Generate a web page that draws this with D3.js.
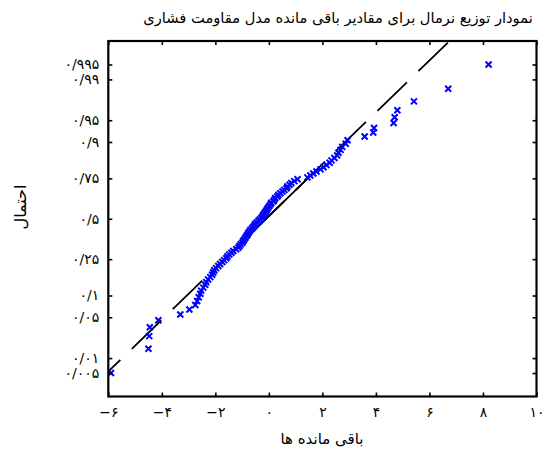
<!DOCTYPE html>
<html><head><meta charset="utf-8">
<script src="https://cdn.jsdelivr.net/npm/d3@7"></script>
<style>html,body{margin:0;padding:0;background:#fff;}svg{display:block;}</style>
</head><body>
<svg id="chart" width="547" height="450"></svg>
<script>
// ---- data (sorted residuals) ----
const residuals = [
  -5.90, -4.50, -4.47, -4.45, -4.13, -3.31, -2.97, -2.75, -2.68, -2.62,
  -2.56, -2.53, -2.45, -2.38, -2.34, -2.27, -2.19, -2.12, -2.08, -2.04,
  -1.97, -1.89, -1.82, -1.74, -1.67, -1.59, -1.55, -1.48, -1.40, -1.33,
  -1.22, -1.14, -1.10, -1.05, -0.99, -0.96, -0.92, -0.88, -0.84, -0.80,
  -0.77, -0.73, -0.69, -0.63, -0.58, -0.54, -0.51, -0.45, -0.39, -0.34,
  -0.28, -0.24, -0.21, -0.17, -0.13, -0.09, -0.06, -0.02, 0.02, 0.06,
   0.09, 0.17, 0.21, 0.24, 0.32, 0.36, 0.43, 0.51, 0.58, 0.66,
   0.69, 0.77, 0.84, 0.95, 1.07, 1.44, 1.55, 1.66, 1.78, 1.93,
   2.04, 2.15, 2.27, 2.34, 2.45, 2.55, 2.60, 2.68, 2.74, 2.87,
   2.94, 3.58, 3.90, 3.93, 4.66, 4.70, 4.80, 5.42, 6.70, 8.21
];
const xTicks = [-6, -4, -2, 0, 2, 4, 6, 8, 10];
const xTickLabels = ["\u2212\u06F6", "\u2212\u06F4", "\u2212\u06F2", "\u06F0", "\u06F2", "\u06F4", "\u06F6", "\u06F8", "\u06F1\u06F0"];
const probTicks = [0.005, 0.01, 0.05, 0.1, 0.25, 0.5, 0.75, 0.9, 0.95, 0.99, 0.995];
const probTickLabels = ["\u06F0/\u06F0\u06F0\u06F5", "\u06F0/\u06F0\u06F1", "\u06F0/\u06F0\u06F5", "\u06F0/\u06F1", "\u06F0/\u06F2\u06F5",
  "\u06F0/\u06F5", "\u06F0/\u06F7\u06F5", "\u06F0/\u06F9", "\u06F0/\u06F9\u06F5", "\u06F0/\u06F9\u06F9", "\u06F0/\u06F9\u06F9\u06F5"];
const xDomain = [-6, 10];
const probDomain = [0.0015, 0.9985];
// reference line (fitted normal): mean and standard deviation, and its x extent
const refMu = -0.106;
const refSigma = 2.31;
const refXExtent = [-6.06, 8.21];
const refQuartileP = [0.25, 0.75];
const titleText = "نمودار توزیع نرمال برای مقادیر باقی مانده مدل مقاومت فشاری";
const xLabelText = "باقی مانده ها";
const yLabelText = "احتمال";

// inverse normal CDF (probability axis transform)
function norminv(p) {
  const a = [-3.969683028665376e+01, 2.209460984245205e+02, -2.759285104469687e+02, 1.383577518672690e+02, -3.066479806614716e+01, 2.506628277459239e+00];
  const b = [-5.447609879822406e+01, 1.615858368580409e+02, -1.556989798598866e+02, 6.680131188771972e+01, -1.328068155288572e+01];
  const c = [-7.784894002430293e-03, -3.223964580411365e-01, -2.400758277161838e+00, -2.549732539343734e+00, 4.374664141464968e+00, 2.938163982698783e+00];
  const d = [7.784695709041462e-03, 3.224671290700398e-01, 2.445134137142996e+00, 3.754408661907416e+00];
  const pl = 0.02425, ph = 1 - pl;
  let q, r;
  if (p < pl) { q = Math.sqrt(-2 * Math.log(p));
    return (((((c[0]*q+c[1])*q+c[2])*q+c[3])*q+c[4])*q+c[5]) / ((((d[0]*q+d[1])*q+d[2])*q+d[3])*q+1); }
  if (p <= ph) { q = p - 0.5; r = q*q;
    return (((((a[0]*r+a[1])*r+a[2])*r+a[3])*r+a[4])*r+a[5])*q / (((((b[0]*r+b[1])*r+b[2])*r+b[3])*r+b[4])*r+1); }
  q = Math.sqrt(-2 * Math.log(1 - p));
  return -(((((c[0]*q+c[1])*q+c[2])*q+c[3])*q+c[4])*q+c[5]) / ((((d[0]*q+d[1])*q+d[2])*q+d[3])*q+1);
}

const L = 108.3, R = 536.5, T = 41, B = 396.5;
const svg = d3.select("#chart");
const x = d3.scaleLinear().domain(xDomain).range([L, R]);
const y = d3.scaleLinear().domain(probDomain.map(norminv)).range([B, T]);

const n = residuals.length;
const pts = residuals.map((v, i) => ({ x: v, z: norminv((i + 0.5) / n) }));

const font = "'DejaVu Sans', sans-serif";

// clip
svg.append("defs").append("clipPath").attr("id", "clip")
  .append("rect").attr("x", L).attr("y", T).attr("width", R - L).attr("height", B - T);

// reference line
const refPts = refXExtent.map(v => ({ x: v, z: (v - refMu) / refSigma }));
const lineGen = d3.line().x(d => x(d.x)).y(d => y(d.z));
const gLine = svg.append("g").attr("clip-path", "url(#clip)");
gLine.append("path").datum(refPts).attr("d", lineGen)
  .attr("fill", "none").attr("stroke", "#000").attr("stroke-width", 1.8)
  .attr("stroke-dasharray", "41,16").attr("stroke-dashoffset", 22);
const qPts = refQuartileP.map(p => { const z = norminv(p); return { x: refMu + z * refSigma, z }; });
gLine.append("path").datum(qPts).attr("d", lineGen)
  .attr("fill", "none").attr("stroke", "#000").attr("stroke-width", 1.8);

// markers
const gPts = svg.append("g").attr("clip-path", "url(#clip)");
const s = 3;
gPts.selectAll("path.mk").data(pts).enter().append("path")
  .attr("class", "mk")
  .attr("d", d => { const cx = x(d.x), cy = y(d.z);
    return `M${cx - s},${cy - s}L${cx + s},${cy + s}M${cx - s},${cy + s}L${cx + s},${cy - s}`; })
  .attr("stroke", "#0000ff").attr("stroke-width", 2).attr("fill", "none");

// axes box
svg.append("rect").attr("x", L).attr("y", T).attr("width", R - L).attr("height", B - T)
  .attr("fill", "none").attr("stroke", "#000").attr("stroke-width", 2.2);

// bottom axis
const xAxis = d3.axisBottom(x).tickValues(xTicks).tickSizeInner(-4).tickSizeOuter(0).tickPadding(11)
  .tickFormat((d, i) => xTickLabels[i]);
const gx = svg.append("g").attr("transform", `translate(0,${B})`).call(xAxis);
gx.select(".domain").remove();
gx.selectAll("line").attr("stroke", "#000").attr("stroke-width", 1.6);
gx.selectAll("text").attr("font-family", font).attr("font-size", 14).attr("fill", "#000").attr("direction", "ltr");
// top ticks
const gxt = svg.append("g").attr("transform", `translate(0,${T})`)
  .call(d3.axisTop(x).tickValues(xTicks).tickSizeInner(-4).tickSizeOuter(0).tickFormat(""));
gxt.select(".domain").remove();
gxt.selectAll("line").attr("stroke", "#000").attr("stroke-width", 1.6);

// left axis
const probZ = probTicks.map(norminv);
const yAxis = d3.axisLeft(y).tickValues(probZ).tickSizeInner(-4).tickSizeOuter(0).tickPadding(9)
  .tickFormat((d, i) => probTickLabels[i]);
const gy = svg.append("g").attr("transform", `translate(${L},0)`).call(yAxis);
gy.select(".domain").remove();
gy.selectAll("line").attr("stroke", "#000").attr("stroke-width", 1.6);
gy.selectAll("text").attr("font-family", font).attr("font-size", 14).attr("fill", "#000").attr("direction", "ltr");
// right ticks
const gyr = svg.append("g").attr("transform", `translate(${R},0)`)
  .call(d3.axisRight(y).tickValues(probZ).tickSizeInner(-4).tickSizeOuter(0).tickFormat(""));
gyr.select(".domain").remove();
gyr.selectAll("line").attr("stroke", "#000").attr("stroke-width", 1.6);

// title
const title = svg.append("text").attr("x", 338).attr("y", 23).attr("text-anchor", "middle")
  .attr("font-family", font).attr("font-size", 16).attr("fill", "#000").attr("direction", "rtl")
  .text(titleText);
const tw = title.node().getComputedTextLength();
if (tw > 0) title.attr("font-size", Math.min(17, 16 * 390 / tw));

// x label
svg.append("text").attr("x", 322).attr("y", 444).attr("text-anchor", "middle")
  .attr("font-family", font).attr("font-size", 15).attr("fill", "#000").attr("direction", "rtl")
  .text(xLabelText);

// y label
svg.append("text").attr("transform", "translate(26,207) rotate(-90)").attr("text-anchor", "middle")
  .attr("font-family", font).attr("font-size", 16).attr("fill", "#000").attr("direction", "rtl")
  .text(yLabelText);
</script>
</body></html>
